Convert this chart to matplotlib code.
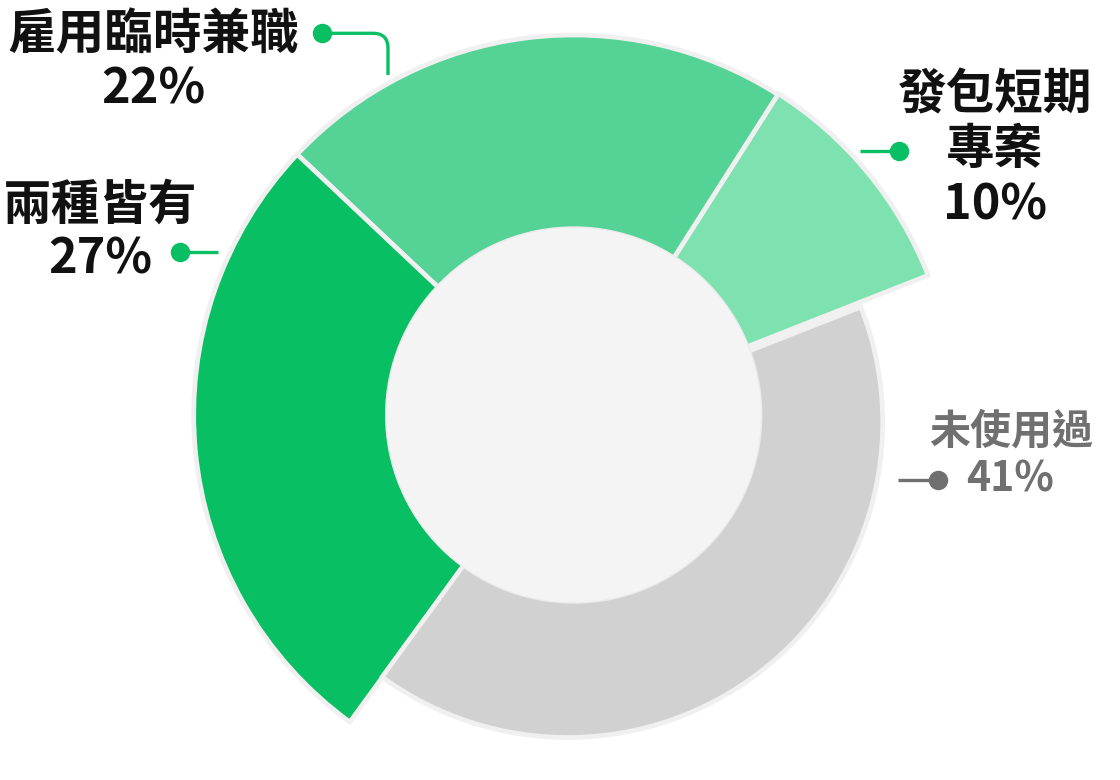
import matplotlib
matplotlib.use("Agg")
import matplotlib.pyplot as plt
from matplotlib.patches import Circle, PathPatch
from matplotlib.path import Path

# ---- data ----
categories = ["發包短期\n專案", "雇用臨時兼職", "兩種皆有", "未使用過"]
values = [10, 22, 27, 41]
colors = ["#7EE2B0", "#55D296", "#08BF63", "#D1D1D1"]

plt.rcParams['font.family'] = ['Noto Sans CJK TC', 'DejaVu Sans']

W, H = 1120, 780
fig = plt.figure(figsize=(W / 100, H / 100), dpi=100)
ax = fig.add_axes([0, 0, 1, 1])

def Y(y):
    return H - y

cx, cy = 573.7, Y(415)
outer_r = [381, 380, 380, 315]
centers = [(cx, cy), (cx, cy), (cx, cy), (cx - 6, cy - 7.5)]

wedges, _ = ax.pie(values, startangle=21.5, counterclock=True, center=(cx, cy),
                   radius=380, colors=colors,
                   wedgeprops=dict(edgecolor="#F0F0F0", linewidth=3.4))
for w, r, c in zip(wedges, outer_r, centers):
    w.set_radius(r)
    w.set_center(c)

ax.add_patch(Circle((cx, cy), 188, facecolor="#F4F4F4", edgecolor="#EBEBEB",
                    linewidth=1, zorder=5))

ax.set_xlim(0, W)
ax.set_ylim(0, H)
ax.set_aspect('equal')
ax.axis('off')

green = "#08BF63"
grey = "#707070"
lw = 2.4
big = 35
small = 29.5

# 雇用臨時兼職
ax.text(153.5, Y(35), categories[1], ha='center', va='center', fontsize=big,
        fontweight='bold', color='#111111')
ax.text(153, Y(89), f"{values[1]}%", ha='center', va='center', fontsize=big,
        fontweight='bold', color='#111111')
verts = [(321.7, Y(33.3)), (373, Y(33.3)), (388, Y(33.3)), (388, Y(48.3)), (388, Y(75))]
codes = [Path.MOVETO, Path.LINETO, Path.CURVE3, Path.CURVE3, Path.LINETO]
ax.add_patch(PathPatch(Path(verts, codes), facecolor='none', edgecolor=green,
                       linewidth=lw, capstyle='butt'))
ax.plot([321.7], [Y(33.3)], 'o', color=green, markersize=13)

# 兩種皆有
ax.text(100, Y(205), categories[2], ha='center', va='center', fontsize=big,
        fontweight='bold', color='#111111')
ax.text(100, Y(259), f"{values[2]}%", ha='center', va='center', fontsize=big,
        fontweight='bold', color='#111111')
ax.plot([180, 218.3], [Y(251.7), Y(251.7)], color=green, linewidth=lw,
        solid_capstyle='butt')
ax.plot([180], [Y(251.7)], 'o', color=green, markersize=13)

# 發包短期專案
l1, l2 = categories[0].split("\n")
ax.text(995.5, Y(95), l1, ha='center', va='center', fontsize=big,
        fontweight='bold', color='#111111')
ax.text(995, Y(150), l2, ha='center', va='center', fontsize=big,
        fontweight='bold', color='#111111')
ax.text(995, Y(205), f"{values[0]}%", ha='center', va='center', fontsize=big,
        fontweight='bold', color='#111111')
ax.plot([860, 899], [Y(150.5), Y(150.5)], color=green, linewidth=lw,
        solid_capstyle='butt')
ax.plot([899], [Y(150.5)], 'o', color=green, markersize=13)

# 未使用過
ax.text(1011.5, Y(432), categories[3], ha='center', va='center', fontsize=small,
        fontweight='bold', color=grey)
ax.text(1010, Y(479), f"{values[3]}%", ha='center', va='center', fontsize=small,
        fontweight='bold', color=grey)
ax.plot([898, 938.3], [Y(480), Y(480)], color=grey, linewidth=lw,
        solid_capstyle='butt')
ax.plot([938.3], [Y(480)], 'o', color=grey, markersize=13)

fig.savefig("out.png", dpi=100, facecolor='white')
